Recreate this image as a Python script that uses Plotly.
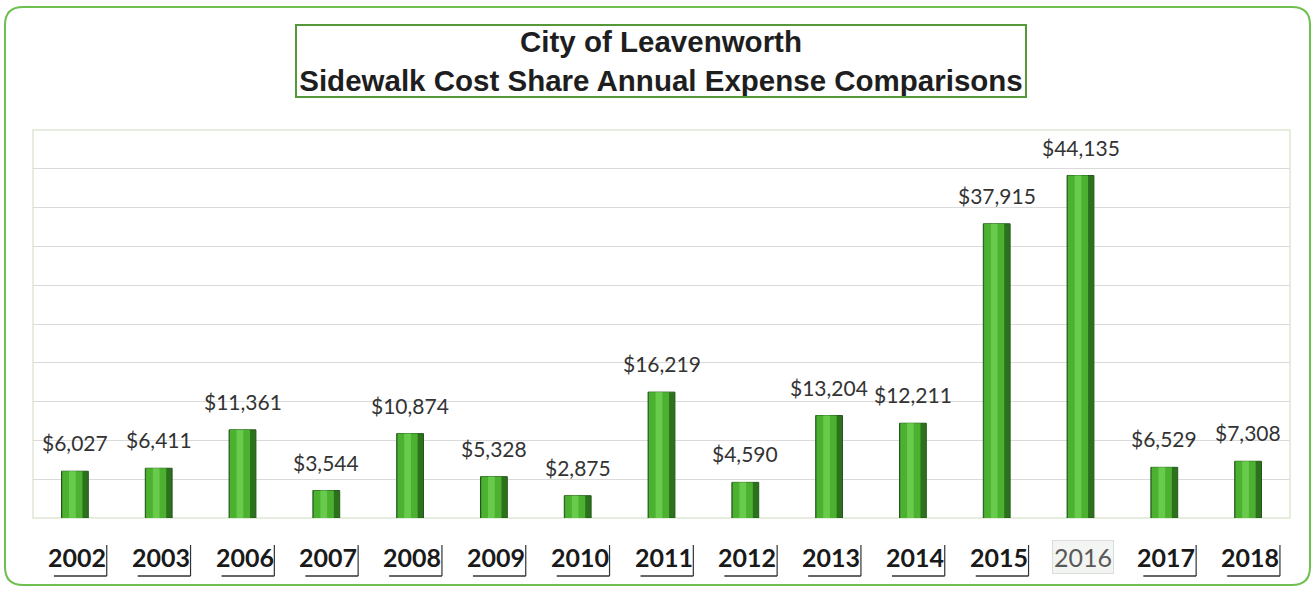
import plotly.graph_objects as go

years = ["2002", "2003", "2006", "2007", "2008", "2009", "2010", "2011",
         "2012", "2013", "2014", "2015", "2016", "2017", "2018"]
expenses = [6027, 6411, 11361, 3544, 10874, 5328, 2875, 16219,
            4590, 13204, 12211, 37915, 44135, 6529, 7308]
title_lines = ["City of Leavenworth", "Sidewalk Cost Share Annual Expense Comparisons"]
muted_year = "2016"

W, H = 1316, 590
L, R, T, B = 33, 26, 130, 72
pw, ph = W - L - R, H - T - B

def px_x(x):
    return (x - L) / pw

def px_y(y):
    return (H - B - y) / ph

fig = go.Figure()
fig.add_trace(go.Bar(
    x=years, y=expenses, width=0.32,
    marker=dict(color="#2c721d", line=dict(color="#23581a", width=1)),
    hoverinfo="skip",
))
fig.add_trace(go.Bar(
    x=years, y=expenses, width=0.24, offset=-0.15,
    marker=dict(color="#4cb131", line=dict(width=0)),
    hoverinfo="skip",
))
fig.add_trace(go.Bar(
    x=years, y=expenses, width=0.08, offset=-0.07,
    marker=dict(color="#6fd051", line=dict(width=0)),
    opacity=0.85, hoverinfo="skip",
))

annotations = []
for i, (yr, v) in enumerate(zip(years, expenses)):
    annotations.append(dict(
        x=i, y=v, xref="x", yref="y", text=f"${v:,}", showarrow=False,
        yanchor="bottom", yshift=14,
        font=dict(family="Lato", size=21, color="#333333"),
    ))
    if yr == muted_year:
        annotations.append(dict(
            x=i, y=px_y(557), xref="x", yref="paper", text=yr, showarrow=False,
            yanchor="middle", xshift=2,
            font=dict(family="Lato", size=25, color="#5a5a5a"),
            bgcolor="#f3f5f2", bordercolor="#dcdcdc", borderwidth=1, borderpad=1,
        ))
    else:
        annotations.append(dict(
            x=i, y=px_y(557), xref="x", yref="paper", text=f"<b>{yr}</b>",
            showarrow=False, yanchor="middle", xshift=2,
            font=dict(family="Lato", size=25, color="#1a1a1a"),
        ))

annotations.append(dict(
    x=px_x(661), y=px_y(61), xref="paper", yref="paper",
    text="<b>" + "<br>".join(title_lines) + "</b>", showarrow=False,
    xanchor="center", yanchor="middle", align="center",
    width=728, height=70,
    font=dict(family="Liberation Sans", size=29.5, color="#1e1e1e"),
    bordercolor="#55983a", borderwidth=2, borderpad=0, bgcolor="white",
))

shapes = []
shapes.append(dict(type="rect", xref="paper", yref="paper", x0=0, x1=1, y0=0, y1=1,
                   line=dict(color="#dfe8d4", width=1.5), layer="below"))
for i, yr in enumerate(years):
    if yr == muted_year:
        continue
    shapes.append(dict(type="line", xref="x", yref="paper",
                       x0=i - 0.25, x1=i + 0.38, y0=px_y(576), y1=px_y(576),
                       line=dict(color="#333333", width=1.5)))
    shapes.append(dict(type="line", xref="x", yref="paper",
                       x0=i + 0.38, x1=i + 0.38, y0=px_y(545), y1=px_y(576),
                       line=dict(color="#333333", width=1.2)))
x0, x1, y0, y1 = px_x(5), px_x(1310), px_y(585), px_y(7)
rx, ry = 18 / pw, 18 / ph
path = (f"M {x0+rx} {y1} L {x1-rx} {y1} Q {x1} {y1} {x1} {y1-ry} "
        f"L {x1} {y0+ry} Q {x1} {y0} {x1-rx} {y0} L {x0+rx} {y0} "
        f"Q {x0} {y0} {x0} {y0+ry} L {x0} {y1-ry} Q {x0} {y1} {x0+rx} {y1} Z")
shapes.append(dict(type="path", xref="paper", yref="paper", path=path,
                   line=dict(color="#6dbf50", width=2), layer="below"))

fig.update_layout(
    width=W, height=H,
    margin=dict(l=L, r=R, t=T, b=B),
    paper_bgcolor="white", plot_bgcolor="white",
    barmode="overlay", showlegend=False,
    xaxis=dict(type="category", range=[-0.5, len(years) - 0.5], autorange=False,
               showticklabels=False, showgrid=False,
               zeroline=False, showline=False, ticks=""),
    yaxis=dict(range=[0, 50000], dtick=5000, showticklabels=False,
               showgrid=True, gridcolor="#dadada", gridwidth=1,
               zeroline=False, showline=False, ticks=""),
    annotations=annotations, shapes=shapes,
)

fig.write_html("out.html", config={"displayModeBar": False},
               post_script="document.body.style.margin='0';document.body.style.overflow='hidden';")
